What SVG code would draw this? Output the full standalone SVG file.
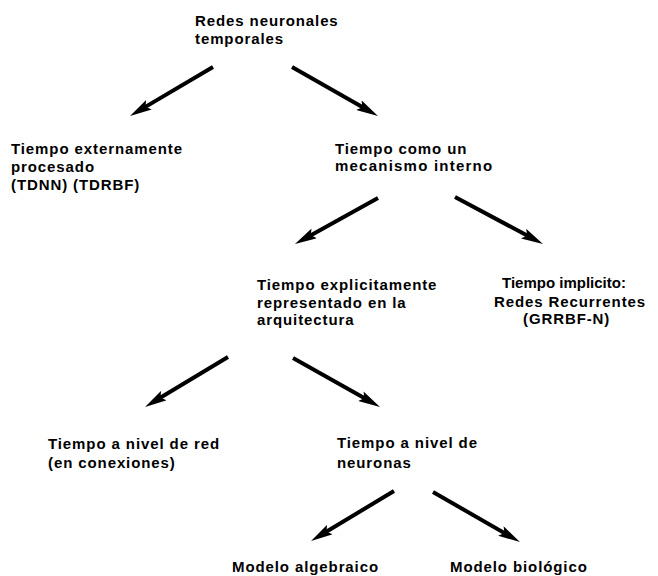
<svg xmlns="http://www.w3.org/2000/svg" width="658" height="576" viewBox="0 0 658 576">
  <style>
    text { font-family: "Liberation Sans", Arial, sans-serif; font-size: 15px; font-weight: bold; fill: #000; letter-spacing: 0.9px; }
    text.tight { letter-spacing: 0; }
    .edge { stroke: #000; stroke-width: 4; fill: none; marker-end: url(#head); }
  </style>
  <defs>
    <!-- long narrow arrowhead; the tip sits 10px past the end of the shaft -->
    <marker id="head" viewBox="0 0 22 11" refX="12" refY="5.5" markerWidth="22" markerHeight="11" markerUnits="userSpaceOnUse" orient="auto">
      <path d="M0,0 L22,5.5 L0,11 L4,5.5 Z" fill="#000"/>
    </marker>
  </defs>
  <rect width="658" height="576" fill="#fff"/>

  <g id="connectors">
    <line class="edge" x1="213" y1="67" x2="138.6" y2="110.9"/>
    <line class="edge" x1="292" y1="67" x2="369.3" y2="111.1"/>
    <line class="edge" x1="378" y1="198" x2="303.7" y2="239.2"/>
    <line class="edge" x1="455" y1="197" x2="534.2" y2="239.3"/>
    <line class="edge" x1="228" y1="357" x2="153.6" y2="401.8"/>
    <line class="edge" x1="293" y1="358" x2="371.3" y2="402.1"/>
    <line class="edge" x1="394" y1="491" x2="319.6" y2="535.8"/>
    <line class="edge" x1="433" y1="492" x2="511.3" y2="537.0"/>
  </g>

  <g id="root">
    <text x="195" y="26">Redes neuronales</text>
    <text x="195" y="44">temporales</text>
  </g>
  <g id="externo">
    <text x="11" y="154">Tiempo externamente</text>
    <text x="11" y="172">procesado</text>
    <text x="11" y="190">(TDNN) (TDRBF)</text>
  </g>
  <g id="interno">
    <text x="335" y="154">Tiempo como un</text>
    <text x="335" y="171" textLength="158" lengthAdjust="spacing">mecanismo interno</text>
  </g>
  <g id="explicito">
    <text x="257" y="290">Tiempo explicitamente</text>
    <text x="257" y="308">representado en la</text>
    <text x="257" y="325">arquitectura</text>
  </g>
  <g id="implicito">
    <text class="tight" x="502" y="288">Tiempo implicito:</text>
    <text x="494" y="307">Redes Recurrentes</text>
    <text x="523" y="324">(GRRBF-N)</text>
  </g>
  <g id="red">
    <text x="48" y="449">Tiempo a nivel de red</text>
    <text x="48" y="468">(en conexiones)</text>
  </g>
  <g id="neuronas">
    <text x="337" y="448">Tiempo a nivel de</text>
    <text x="337" y="468">neuronas</text>
  </g>
  <g id="algebraico">
    <text x="232" y="572">Modelo algebraico</text>
  </g>
  <g id="biologico">
    <text x="450" y="572">Modelo biológico</text>
  </g>
</svg>
